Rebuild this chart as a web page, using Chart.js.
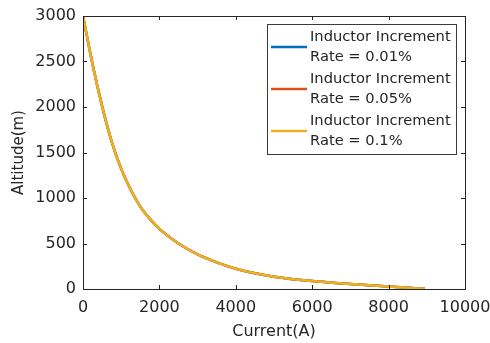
<!DOCTYPE html>
<html>
<head>
<meta charset="utf-8">
<script src="https://cdn.jsdelivr.net/npm/chart.js@4.4.0/dist/chart.umd.min.js"></script>
<style>
  body { margin: 0; background: #fff; }
  canvas { display: block; }
</style>
</head>
<body>
<canvas id="myChart" width="490" height="343"></canvas>
<script>
"use strict";

// values (the three curves sit on top of each other)
let currentA = [0, 250, 500, 750, 1000, 1250, 1500, 1750, 2000, 2500, 3000, 3500, 4000, 4500, 5000, 6000, 7000, 8000, 8500, 8950];
let altitudeM = [3000, 2470, 2010, 1620, 1320, 1090, 905, 770, 660, 500, 380, 293, 223, 172, 135, 87, 55, 27, 14, 3];
let seriesNames = [
    ["Inductor Increment", "Rate = 0.01%"],
    ["Inductor Increment", "Rate = 0.05%"],
    ["Inductor Increment", "Rate = 0.1%"]
];
let seriesColors = ["#0072BD", "#D95319", "#EDB120"];
let xTicks = [0, 2000, 4000, 6000, 8000, 10000];
let yTicks = [0, 500, 1000, 1500, 2000, 2500, 3000];

const ink = "#262626";
const fontName = "'DejaVu Sans', sans-serif";

function makePoints() {
    let pts = [];
    for (let i = 0; i < currentA.length; i++) {
        pts.push({ x: currentA[i], y: altitudeM[i] });
    }
    return pts;
}

// last series is drawn on top, like MATLAB does
let datasets = seriesNames.map((name, i) => ({
    label: name,
    data: makePoints(),
    borderColor: seriesColors[i],
    backgroundColor: seriesColors[i],
    borderWidth: 2.5,
    pointRadius: 0,
    cubicInterpolationMode: "monotone",
    fill: false,
    order: seriesNames.length - i
}));

// MATLAB style box with inward ticks on all four sides, plus the legend
const boxPlugin = {
    id: "boxPlugin",
    afterDraw(chart) {
        const ctx = chart.ctx;
        const a = chart.chartArea;
        const xs = chart.scales.x;
        const ys = chart.scales.y;
        ctx.save();
        ctx.strokeStyle = ink;
        ctx.lineWidth = 1;
        ctx.strokeRect(a.left + 0.5, a.top + 0.5, a.right - a.left, a.bottom - a.top);
        ctx.beginPath();
        xTicks.forEach(v => {
            let px = Math.round(xs.getPixelForValue(v)) + 0.5;
            ctx.moveTo(px, a.bottom);
            ctx.lineTo(px, a.bottom - 4);
            ctx.moveTo(px, a.top);
            ctx.lineTo(px, a.top + 4);
        });
        yTicks.forEach(v => {
            let py = Math.round(ys.getPixelForValue(v)) + 0.5;
            ctx.moveTo(a.left, py);
            ctx.lineTo(a.left + 4, py);
            ctx.moveTo(a.right, py);
            ctx.lineTo(a.right - 4, py);
        });
        ctx.stroke();

        // legend with two-line labels
        const w = 189, h = 130;
        const lx = a.right - 9 - w;
        const ly = a.top + 8;
        ctx.fillStyle = "#fff";
        ctx.fillRect(lx, ly, w, h);
        ctx.strokeStyle = "#3a3a3a";
        ctx.strokeRect(lx + 0.5, ly + 0.5, w, h);
        ctx.font = "14.7px " + fontName;
        ctx.textBaseline = "middle";
        ctx.textAlign = "left";
        chart.data.datasets.forEach((ds, i) => {
            let top = ly + 13 + i * 42;
            ctx.strokeStyle = ds.borderColor;
            ctx.lineWidth = 2.5;
            ctx.beginPath();
            ctx.moveTo(lx + 4, top + 10);
            ctx.lineTo(lx + 40, top + 10);
            ctx.stroke();
            ctx.fillStyle = ink;
            ds.label.forEach((line, j) => {
                ctx.fillText(line, lx + 43, top + j * 20.5);
            });
        });
        ctx.restore();
    }
};

const ctx = document.getElementById("myChart");

new Chart(ctx, {
    type: "line",
    data: { datasets: datasets },
    options: {
        responsive: false,
        animation: false,
        layout: { padding: { top: 16, right: 25, left: 0, bottom: 0 } },
        plugins: {
            legend: { display: false },
            tooltip: { enabled: false }
        },
        scales: {
            x: {
                type: "linear",
                min: 0,
                max: 10000,
                afterFit: s => { s.height = 54; s.paddingLeft = 0; s.paddingRight = 0; },
                afterBuildTicks: s => { s.ticks = xTicks.map(v => ({ value: v })); },
                grid: { display: false, drawTicks: false },
                border: { display: false },
                ticks: {
                    padding: 9,
                    color: ink,
                    font: { family: fontName, size: 16 },
                    maxRotation: 0,
                    autoSkip: false,
                    callback: v => String(v)
                },
                title: {
                    display: true,
                    text: "Current(A)",
                    color: ink,
                    font: { family: fontName, size: 16 },
                    padding: { top: 0, bottom: 2 }
                }
            },
            y: {
                type: "linear",
                min: 0,
                max: 3000,
                afterFit: s => { s.width = 83; s.paddingTop = 0; s.paddingBottom = 0; },
                afterBuildTicks: s => { s.ticks = yTicks.map(v => ({ value: v })); },
                grid: { display: false, drawTicks: false },
                border: { display: false },
                ticks: {
                    padding: 7,
                    color: ink,
                    font: { family: fontName, size: 16 },
                    autoSkip: false,
                    callback: v => String(v)
                },
                title: {
                    display: true,
                    text: "Altitude(m)",
                    color: ink,
                    font: { family: fontName, size: 15 },
                    padding: { top: 10, bottom: 0 }
                }
            }
        }
    },
    plugins: [boxPlugin]
});
</script>
</body>
</html>
